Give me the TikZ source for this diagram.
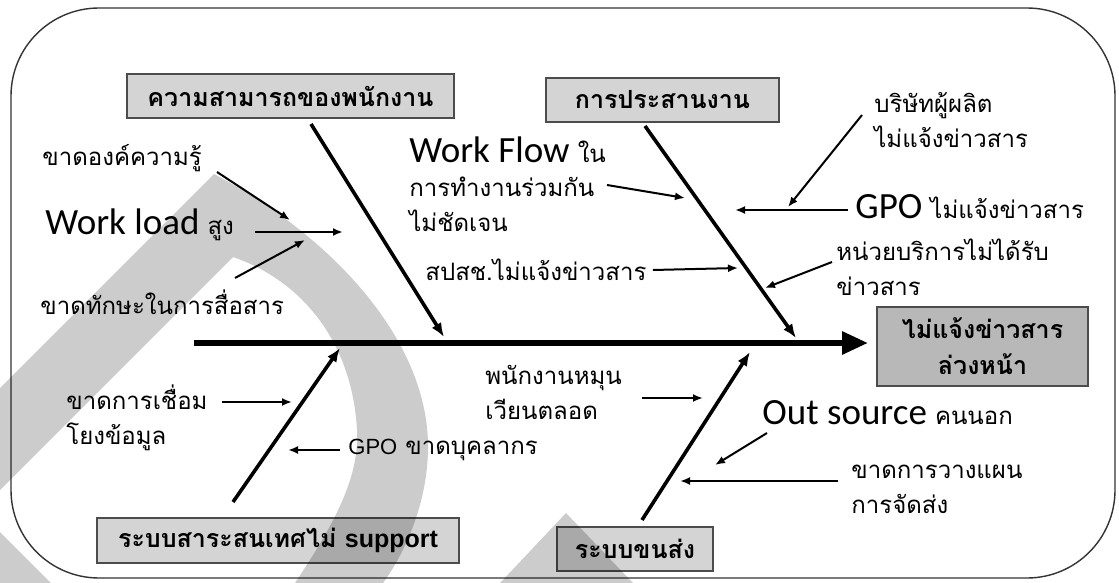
\documentclass[tikz,border=0pt]{standalone}
\usepackage{fontspec}
\setmainfont[Script=Thai]{Loma}
\newfontfamily\lat{Carlito}
\newfontfamily\ari{Liberation Sans}
\usetikzlibrary{arrows.meta}
\definecolor{boxgray}{gray}{0.83}
\definecolor{effgray}{gray}{0.72}
\tikzset{
  cat/.style={draw=black!70, line width=0.7pt, fill=boxgray, inner sep=0pt,
    font=\bfseries\fontsize{12.5}{15}\selectfont},
  lbl/.style={anchor=west, inner sep=0pt, align=left,
    font=\fontsize{12}{17.5}\selectfont},
  sub/.style={line width=1pt, -{Latex[length=5pt,width=4pt]}},
  bone/.style={line width=1.8pt, -{Latex[length=7pt,width=5.5pt]}},
  spine/.style={line width=3pt, -{Triangle[length=13pt,width=11pt]}},
  wm/.style={fill=black, fill opacity=0.2, draw=none}
}
\newcommand{\biglat}[1]{{\lat\fontsize{18.5}{21}\selectfont #1}}
\begin{document}
\begin{tikzpicture}[x=0.5pt,y=-0.5pt]
\useasboundingbox (0,0) rectangle (1119,583);
\fill[white] (0,0) rectangle (1119,583);
% frame
\draw[line width=0.7pt, black!80, rounded corners=44pt] (11,8) rectangle (1115,578);

% category boxes
\node[cat, minimum width=163.5pt, minimum height=22pt] (c1) at (290.5,96) {ความสามารถของพนักงาน};
\node[cat, minimum width=116.5pt, minimum height=22pt] (c2) at (662.5,100) {การประสานงาน};
\node[cat, minimum width=181pt, minimum height=22.5pt] (c3) at (278,540.5) {ระบบสาระสนเทศไม่ {\ari\bfseries support}};
\node[cat, minimum width=78pt, minimum height=22pt] (c4) at (635,549) {ระบบขนส่ง};
\node[cat, fill=effgray, align=center, minimum width=105.5pt, minimum height=39.5pt,
  font=\bfseries\fontsize{12.5}{18}\selectfont] (eff) at (982.5,346.5) {ไม่แจ้งข่าวสาร\\ล่วงหน้า};

% spine
\coordinate (sps) at (194,343);
\coordinate (spe) at (868,343);
\draw[spine] (sps) -- (spe);

% bones
\coordinate (b1s) at (311,124); \coordinate (b1e) at (444,337);
\coordinate (b2s) at (645,126); \coordinate (b2e) at (796,338);
\coordinate (b3s) at (233,502); \coordinate (b3e) at (340,348);
\coordinate (b4s) at (642,520); \coordinate (b4e) at (750,352);
\draw[bone] (b1s) -- (b1e);
\draw[bone] (b2s) -- (b2e);
\draw[bone] (b3s) -- (b3e);
\draw[bone] (b4s) -- (b4e);

% labels
\node[lbl] (t1) at (42,158) {ขาดองค์ความรู้};
\node[lbl] (t2) at (45,225) {\biglat{Work load} สูง};
\node[lbl] (t3) at (40,302) {ขาดทักษะในการสื่อสาร};
\node[lbl] (t4) at (409,150) {\biglat{Work Flow} ใน};
\node[lbl] (t5) at (409,204) {การทำงานร่วมกัน\\ไม่ชัดเจน};
\node[lbl] (t6) at (425,270) {สปสช.ไม่แจ้งข่าวสาร};
\node[lbl] (t7) at (874,120) {บริษัทผู้ผลิต\\ไม่แจ้งข่าวสาร};
\node[lbl] (t8) at (855,207) {\biglat{GPO} ไม่แจ้งข่าวสาร};
\node[lbl] (t9) at (836,267) {หน่วยบริการไม่ได้รับ\\ข่าวสาร};
\node[lbl] (t10) at (66,418) {ขาดการเชื่อม\\โยงข้อมูล};
\node[lbl] (t11) at (348,450) {{\ari\fontsize{11}{13}\selectfont GPO} ขาดบุคลากร};
\node[lbl] (t12) at (485,392) {พนักงานหมุน\\เวียนตลอด};
\node[lbl] (t13) at (762,413) {\biglat{Out source} คนนอก};
\node[lbl] (t14) at (851,489) {ขาดการวางแผน\\การจัดส่ง};

% sub arrows
\coordinate (a1s) at (217,172); \coordinate (a1e) at (290,220);
\coordinate (a2s) at (255,232); \coordinate (a2e) at (343,232);
\coordinate (a3s) at (235,278); \coordinate (a3e) at (305,240);
\coordinate (a4s) at (607,185); \coordinate (a4e) at (685,198);
\coordinate (a5s) at ([xshift=3pt]t6.east); \coordinate (a5e) at (738,268);
\coordinate (a6s) at (862,115); \coordinate (a6e) at (788,207);
\coordinate (a7s) at (848,210); \coordinate (a7e) at (735,210);
\coordinate (a8s) at (832,262); \coordinate (a8e) at (765,288);
\coordinate (a9s) at (222,402); \coordinate (a9e) at (292,402);
\coordinate (a10s) at (340,450); \coordinate (a10e) at (288,450);
\coordinate (a11s) at (642,398); \coordinate (a11e) at (703,398);
\coordinate (a12s) at (767,433); \coordinate (a12e) at (715,465);
\coordinate (a13s) at (838,481); \coordinate (a13e) at (680,481);
\foreach \i in {1,...,13} {\draw[sub] (a\i s) -- (a\i e);}

% watermark overlay
\fill[wm] (0,388) -- (214,174) .. controls (330,235) and (430,340) .. (428,450)
  .. controls (427,510) and (400,560) .. (383,583) -- (295,583)
  .. controls (330,530) and (360,480) .. (357,430)
  .. controls (352,340) and (300,280) .. (233,257) -- (0,490) -- cycle;
\fill[wm] (0,532) -- (51,583) -- (0,583) -- cycle;
\fill[wm] (566,513) -- (633,583) -- (500,583) -- cycle;
\end{tikzpicture}
\end{document}
